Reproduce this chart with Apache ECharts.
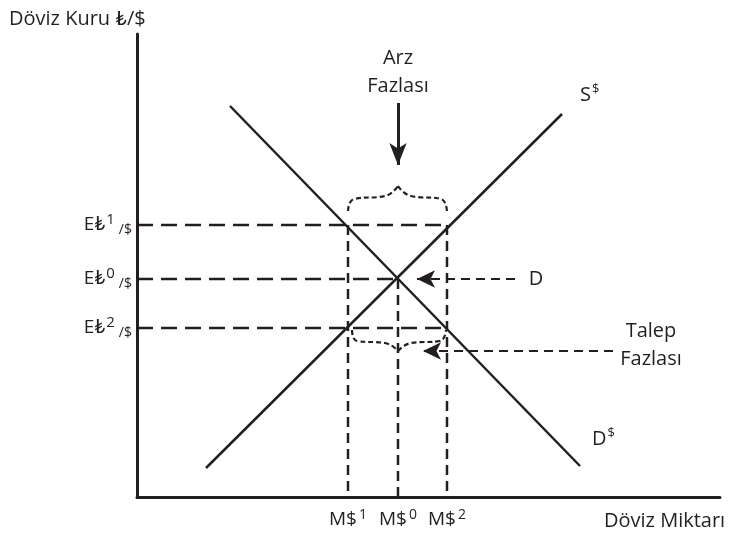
<!DOCTYPE html>
<html>
<head>
<meta charset="utf-8">
<script src="https://cdn.jsdelivr.net/npm/echarts@6/dist/echarts.min.js"></script>
<style>
  html, body { margin: 0; padding: 0; background: #fff; }
  #chart { width: 739px; height: 538px; }
</style>
</head>
<body>
<div id="chart"></div>
<script>
// diagram units: x = quantity, y = exchange rate
const supplyLine = [[69, 29], [425, 383]];
const demandLine = [[93, 391], [443, 31]];
const rateLevels = [272, 218, 169];   // E1, E0, E2
const rateSup = ['1', '0', '2'];
const qtyLevels = [211, 261, 310];    // M1, M0, M2
const qtySup = ['1', '0', '2'];
// brace shapes (left half / right half)
const braceTopL = [[211, 286], [217, 298], [248, 301], [261, 311]];
const braceTopR = [[261, 311], [274, 301], [304, 298], [310, 285]];
const braceBotL = [[215, 167], [220, 156], [248, 154], [261, 146]];
const braceBotR = [[261, 146], [274, 154], [303, 156], [309, 167]];
// arrows
const arzArrow = [[261, 394], [261, 332]];
const dArrow = [[378, 218], [280, 218]];
const talepArrow = [[476, 146], [286, 146]];

const ink = '#231f20';
const font = '"Open Sans", Lato, "DejaVu Sans", sans-serif';

const chart = echarts.init(document.getElementById('chart'));

function seg(data, type, width) {
  return {
    type: 'line', data: data, symbol: 'none', silent: true,
    lineStyle: { color: ink, width: width || 2.5, type: type || 'solid' }
  };
}
function curve(data) {
  const s = seg(data, [5, 3], 2.2);
  s.smooth = 0.5;
  return s;
}
function arrow(pts, dashed) {
  return {
    type: 'line', data: [], silent: true,
    markLine: {
      silent: true, animation: false,
      symbol: ['none', 'arrow'], symbolSize: dashed ? [13, 18] : [13, 22],
      label: { show: false },
      lineStyle: { color: ink, width: dashed ? 2 : 3, type: dashed ? [9, 6] : 'solid' },
      data: [[{ coord: pts[0] }, { coord: pts[1] }]]
    }
  };
}

const series = [
  seg(supplyLine),
  seg(demandLine),
  // horizontal dashed from y-axis
  seg([[0, rateLevels[0]], [qtyLevels[2], rateLevels[0]]], [16, 8]),
  seg([[0, rateLevels[1]], [qtyLevels[1], rateLevels[1]]], [16, 8]),
  seg([[0, rateLevels[2]], [qtyLevels[2], rateLevels[2]]], [16, 8]),
  // vertical dashed down to x-axis
  seg([[qtyLevels[0], rateLevels[0]], [qtyLevels[0], 0]], [10, 6]),
  seg([[qtyLevels[1], rateLevels[1]], [qtyLevels[1], 0]], [10, 6]),
  seg([[qtyLevels[2], rateLevels[0]], [qtyLevels[2], 0]], [10, 6]),
  curve(braceTopL), curve(braceTopR), curve(braceBotL), curve(braceBotR),
  arrow(arzArrow, false),
  arrow(dArrow, true),
  arrow(talepArrow, true)
];

const txt = (x, y, text, extra) => ({
  type: 'text', x: x, y: y, silent: true,
  style: Object.assign({
    text: text, fill: ink, font: '20px ' + font,
    align: 'center', verticalAlign: 'middle'
  }, extra || {})
});

const richSup = {
  b: { fontSize: 20, fontFamily: font, color: ink, lineHeight: 28 },
  s: { fontSize: 13, fontFamily: font, color: ink, lineHeight: 28, padding: [0, 0, 11, 1] }
};

chart.setOption({
  animation: false,
  grid: { left: 137, right: 19, top: 34, bottom: 41 },
  xAxis: {
    type: 'value', min: 0, max: 583,
    axisLine: { lineStyle: { color: ink, width: 3 } },
    axisTick: { show: false },
    splitLine: { show: false },
    axisLabel: {
      customValues: qtyLevels,
      margin: 10,
      formatter: v => '{b|M$}{s|' + qtySup[qtyLevels.indexOf(v)] + '}',
      rich: {
        b: { fontSize: 19, fontFamily: font, color: ink, lineHeight: 26 },
        s: { fontSize: 14, fontFamily: font, color: ink, lineHeight: 26, padding: [0, 0, 9, 2] }
      }
    }
  },
  yAxis: {
    type: 'value', min: 0, max: 463,
    axisLine: { lineStyle: { color: ink, width: 3 } },
    axisTick: { show: false },
    splitLine: { show: false },
    axisLabel: {
      customValues: rateLevels,
      margin: 5,
      formatter: v => '{b|E₺}{s|' + rateSup[rateLevels.indexOf(v)] + '}{u|/$}',
      rich: {
        b: { fontSize: 19, fontFamily: font, color: ink, lineHeight: 28 },
        s: { fontSize: 15, fontFamily: font, color: ink, lineHeight: 28, padding: [0, 4, 10, 1] },
        u: { fontSize: 14, fontFamily: font, color: ink, lineHeight: 28, padding: [10, 0, 0, 0] }
      }
    }
  },
  series: series,
  graphic: [
    txt(9, 19, 'Döviz Kuru ₺/$', { align: 'left' }),
    txt(398, 58, 'Arz'),
    txt(398, 86, 'Fazlası'),
    txt(580, 95, '{b|S}{s|$}', { align: 'left', rich: richSup }),
    txt(592, 439, '{b|D}{s|$}', { align: 'left', rich: richSup }),
    txt(536, 279, 'D'),
    txt(651, 331, 'Talep'),
    txt(651, 359, 'Fazlası'),
    txt(604, 521, 'Döviz Miktarı', { align: 'left' })
  ]
});
</script>
</body>
</html>
